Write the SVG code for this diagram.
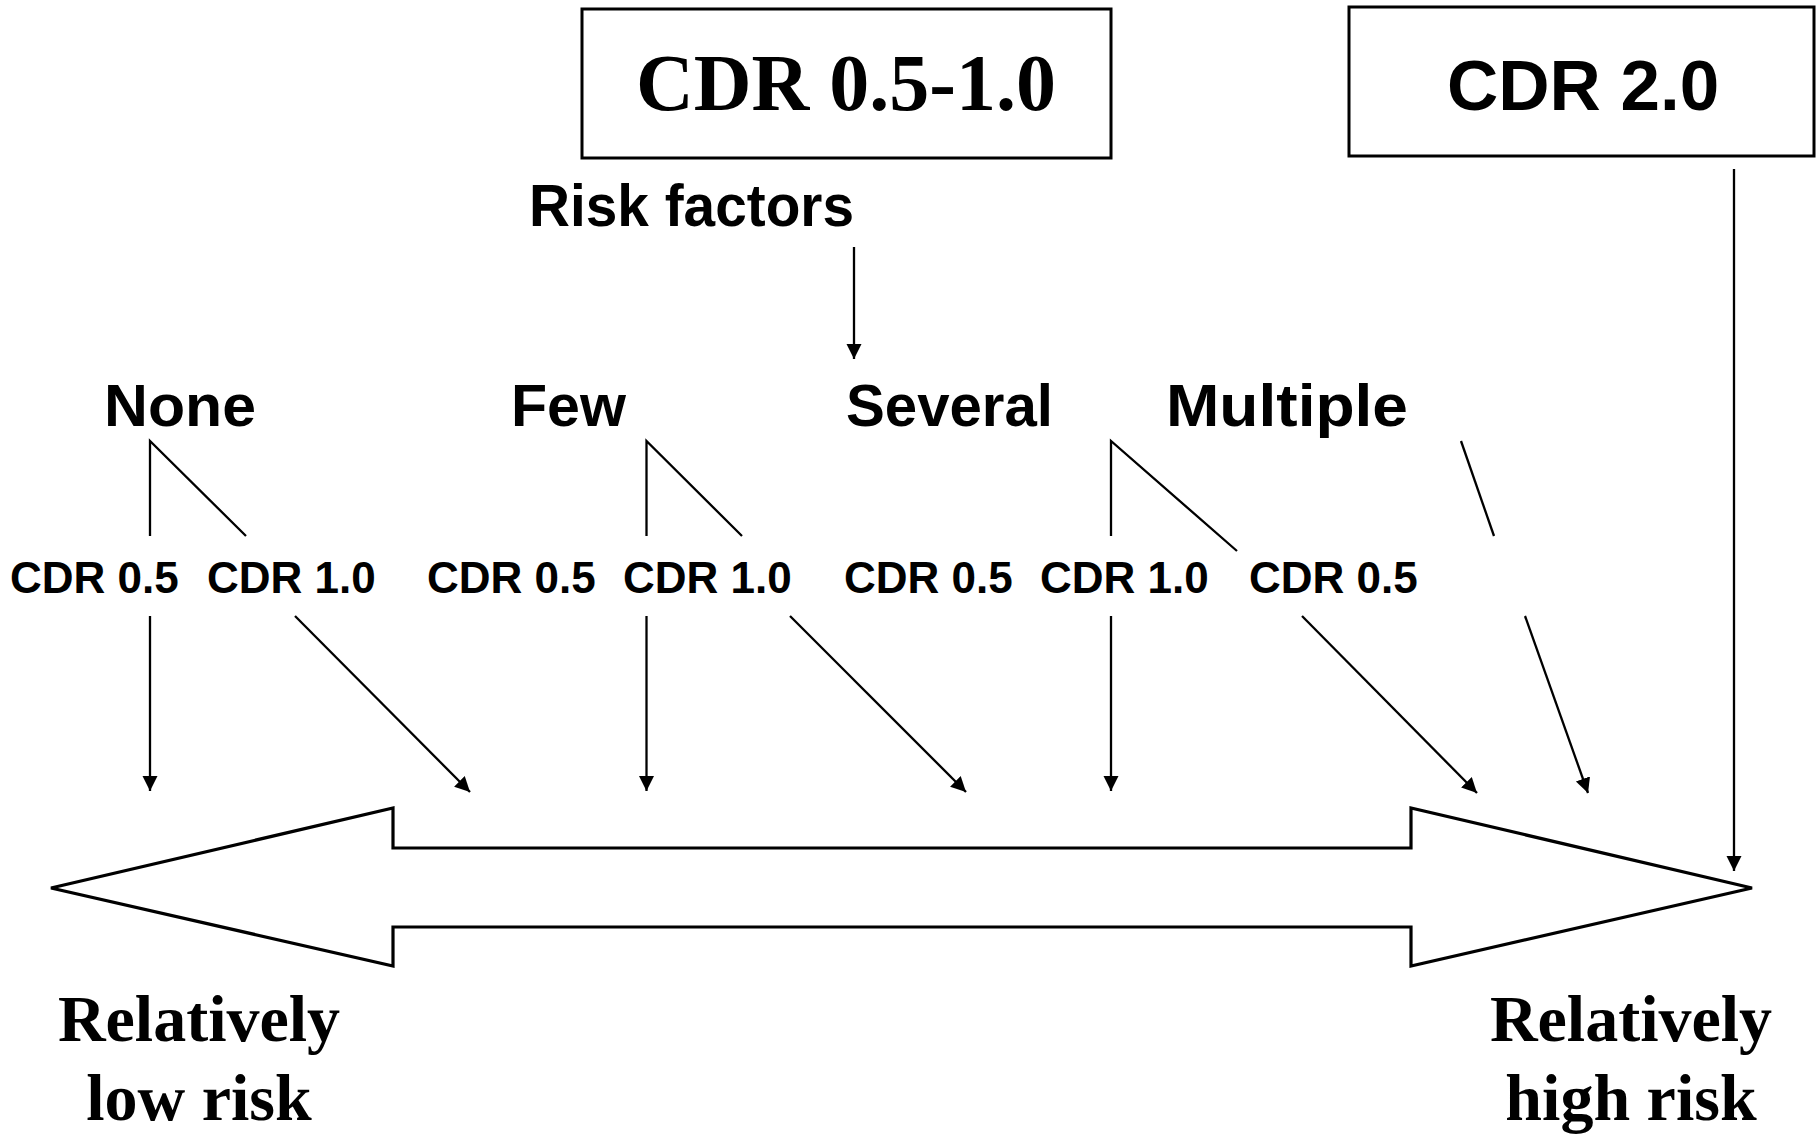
<svg xmlns="http://www.w3.org/2000/svg" width="1820" height="1140" viewBox="0 0 1820 1140">
<style>
.box{fill:#fff;stroke:#000;stroke-width:3}
.serif{font-family:"Liberation Serif","Times New Roman",serif;font-weight:bold;fill:#000}
.sans{font-family:"Liberation Sans",Arial,sans-serif;font-weight:bold;fill:#000}
.big{font-size:59px}
.small{font-size:44px}
.ln{stroke:#000;stroke-width:2.3;fill:none}
.ar{stroke:#000;stroke-width:2.3;fill:none;marker-end:url(#ah)}
</style>
<defs>
<marker id="ah" markerUnits="userSpaceOnUse" markerWidth="16" markerHeight="16" refX="15" refY="7.5" orient="auto" viewBox="0 0 16 16">
<path d="M0,0 L15,7.5 L0,15 Z" fill="#000"/>
</marker>
</defs>
<rect width="1820" height="1140" fill="#fff"/>
<g id="box-cdr05-10">
<rect class="box" x="582" y="9" width="529" height="149"/>
<text class="serif" x="846" y="110" font-size="80" text-anchor="middle">CDR 0.5-1.0</text>
</g>
<g id="box-cdr20">
<rect class="box" x="1349" y="7" width="465" height="149"/>
<text class="sans" x="1583" y="110" font-size="71" text-anchor="middle">CDR 2.0</text>
</g>
<g id="risk-factors"><text class="sans big" x="529" y="226" textLength="325" lengthAdjust="spacingAndGlyphs">Risk factors</text></g>
<g id="none"><text class="sans big" x="104" y="426" textLength="152" lengthAdjust="spacingAndGlyphs">None</text></g>
<g id="few"><text class="sans big" x="511" y="426" textLength="115" lengthAdjust="spacingAndGlyphs">Few</text></g>
<g id="several"><text class="sans big" x="846" y="426" textLength="207" lengthAdjust="spacingAndGlyphs">Several</text></g>
<g id="multiple"><text class="sans big" x="1166" y="426" textLength="242" lengthAdjust="spacingAndGlyphs">Multiple</text></g>
<g id="cdr-labels">
<text class="sans small" x="10" y="593">CDR 0.5</text>
<text class="sans small" x="207" y="593">CDR 1.0</text>
<text class="sans small" x="427" y="593">CDR 0.5</text>
<text class="sans small" x="623" y="593">CDR 1.0</text>
<text class="sans small" x="844" y="593">CDR 0.5</text>
<text class="sans small" x="1040" y="593">CDR 1.0</text>
<text class="sans small" x="1249" y="593">CDR 0.5</text>
</g>
<g id="scale-arrow">
<polygon points="51,888 393,808 393,848 1411,848 1411,808 1752,888 1411,966 1411,927 393,927 393,966" fill="#fff" stroke="#000" stroke-width="3.2" stroke-linejoin="miter"/>
</g>
<g id="low-risk">
<text class="serif" font-size="66" x="199" y="1041" text-anchor="middle">Relatively</text>
<text class="serif" font-size="66" x="199" y="1120" text-anchor="middle">low risk</text>
</g>
<g id="high-risk">
<text class="serif" font-size="66" x="1631" y="1041" text-anchor="middle">Relatively</text>
<text class="serif" font-size="66" x="1631" y="1120" text-anchor="middle">high risk</text>
</g>
<g id="connectors">
<line class="ar" x1="854" y1="247" x2="854" y2="359"/>
<path class="ln" d="M150,536 L150,441 L246,536"/>
<path class="ln" d="M646.5,536 L646.5,441 L742,536"/>
<path class="ln" d="M1111,536 L1111,441 L1237,551"/>
<line class="ln" x1="1461" y1="441" x2="1494" y2="536"/>
<line class="ar" x1="150" y1="616" x2="150" y2="791"/>
<line class="ar" x1="295" y1="616" x2="470" y2="792"/>
<line class="ar" x1="646.5" y1="616" x2="646.5" y2="791"/>
<line class="ar" x1="790" y1="616" x2="966" y2="792"/>
<line class="ar" x1="1111" y1="616" x2="1111" y2="791"/>
<line class="ar" x1="1302" y1="616" x2="1477" y2="793"/>
<line class="ar" x1="1525" y1="616" x2="1588" y2="793"/>
<line class="ar" x1="1734" y1="169" x2="1734" y2="871"/>
</g>
</svg>
